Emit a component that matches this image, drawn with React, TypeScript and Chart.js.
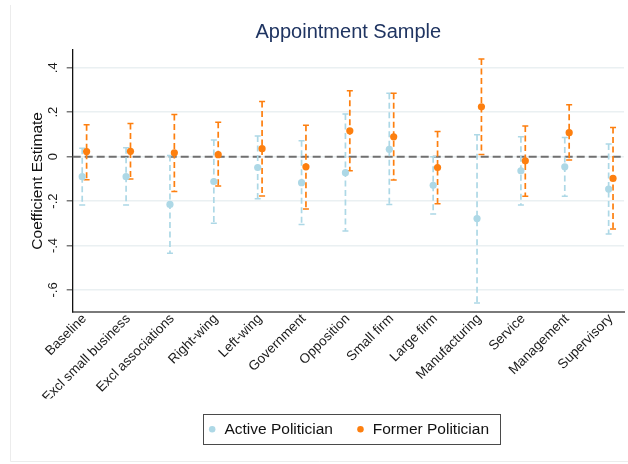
import { useEffect, useRef } from 'react';
import Chart from 'chart.js/auto';

const CATEGORIES = [
  'Baseline',
  'Excl small business',
  'Excl associations',
  'Right-wing',
  'Left-wing',
  'Government',
  'Opposition',
  'Small firm',
  'Large firm',
  'Manufacturing',
  'Service',
  'Management',
  'Supervisory',
];

// point estimates and 95% CI bounds
const ACTIVE_EST = [-0.09, -0.09, -0.215, -0.112, -0.049, -0.117, -0.072, 0.033, -0.129, -0.279, -0.064, -0.046, -0.146];
const ACTIVE_LO = [-0.218, -0.218, -0.435, -0.3, -0.19, -0.305, -0.335, -0.216, -0.258, -0.659, -0.218, -0.178, -0.348];
const ACTIVE_HI = [0.038, 0.04, 0.005, 0.075, 0.093, 0.072, 0.192, 0.285, 0.0, 0.099, 0.09, 0.086, 0.057];

const FORMER_EST = [0.023, 0.024, 0.017, 0.009, 0.036, -0.046, 0.116, 0.089, -0.049, 0.224, -0.019, 0.108, -0.098];
const FORMER_LO = [-0.104, -0.101, -0.157, -0.132, -0.177, -0.236, -0.064, -0.105, -0.212, 0.01, -0.178, -0.015, -0.326];
const FORMER_HI = [0.144, 0.149, 0.19, 0.155, 0.248, 0.141, 0.297, 0.285, 0.113, 0.439, 0.138, 0.234, 0.131];

const Y_TICKS = [-0.6, -0.4, -0.2, 0, 0.2, 0.4];
const Y_TICK_LABELS = ['-.6', '-.4', '-.2', '0', '.2', '.4'];

const ACTIVE_COLOR = '#add8e6';
const FORMER_COLOR = '#fd7f0f';
const FONT = "'Liberation Sans', Arial, Helvetica, sans-serif";
const DODGE = 0.05;

const SERIES = [
  { label: 'Active Politician', est: ACTIVE_EST, lo: ACTIVE_LO, hi: ACTIVE_HI, color: ACTIVE_COLOR, shift: -DODGE },
  { label: 'Former Politician', est: FORMER_EST, lo: FORMER_LO, hi: FORMER_HI, color: FORMER_COLOR, shift: DODGE },
];

// faint outer frame, like the Stata graph region
const framePlugin = {
  id: 'frame',
  beforeDraw(chart: any) {
    const { ctx } = chart;
    ctx.save();
    ctx.fillStyle = '#ffffff';
    ctx.fillRect(0, 0, chart.width, chart.height);
    ctx.strokeStyle = '#ececec';
    ctx.lineWidth = 1;
    ctx.beginPath();
    ctx.moveTo(10.5, 5);
    ctx.lineTo(10.5, 461.5);
    ctx.lineTo(chart.width, 461.5);
    ctx.stroke();
    ctx.restore();
  },
};

// zero reference line + dashed capped CI bars
const errorBarPlugin = {
  id: 'errorBars',
  beforeDatasetsDraw(chart: any) {
    const { ctx, chartArea } = chart;
    const x = chart.scales.x;
    const y = chart.scales.y;
    ctx.save();

    const y0 = y.getPixelForValue(0);
    ctx.strokeStyle = '#707070';
    ctx.lineWidth = 2;
    ctx.setLineDash([8, 4]);
    ctx.beginPath();
    ctx.moveTo(chartArea.left, y0);
    ctx.lineTo(chartArea.right, y0);
    ctx.stroke();

    for (const s of SERIES) {
      s.est.forEach((_, i) => {
        const px = x.getPixelForValue(i + s.shift);
        const top = y.getPixelForValue(s.hi[i]);
        const bot = y.getPixelForValue(s.lo[i]);
        ctx.strokeStyle = s.color;
        ctx.lineWidth = 1.7;
        ctx.setLineDash([6, 3.5]);
        ctx.beginPath();
        ctx.moveTo(px, top);
        ctx.lineTo(px, bot);
        ctx.stroke();
        ctx.setLineDash([]);
        ctx.lineWidth = 1.5;
        ctx.beginPath();
        ctx.moveTo(px - 3, top);
        ctx.lineTo(px + 3, top);
        ctx.moveTo(px - 3, bot);
        ctx.lineTo(px + 3, bot);
        ctx.stroke();
      });
    }
    ctx.restore();
  },
};

// box around the legend entries
const legendBoxPlugin = {
  id: 'legendBox',
  afterDraw(chart: any) {
    const boxes = chart.legend?.legendHitBoxes;
    if (!boxes || !boxes.length) return;
    const first = boxes[0];
    const last = boxes[boxes.length - 1];
    const cy = first.top + first.height / 2;
    const left = first.left - 5;
    const right = last.left + last.width + 11;
    const { ctx } = chart;
    ctx.save();
    ctx.strokeStyle = '#4a4a4a';
    ctx.lineWidth = 1;
    ctx.strokeRect(Math.round(left) + 0.5, Math.round(cy - 15) + 0.5, Math.round(right - left), 30);
    ctx.restore();
  },
};

export default function App() {
  const canvasRef = useRef<HTMLCanvasElement | null>(null);
  const chartRef = useRef<Chart | null>(null);

  useEffect(() => {
    document.body.style.margin = '0';
    const canvas = canvasRef.current;
    if (!canvas) return;

    if (chartRef.current) {
      chartRef.current.destroy();
      chartRef.current = null;
    }

    const datasets = SERIES.map((s) => ({
      label: s.label,
      data: s.est.map((v, i) => ({ x: i + s.shift, y: v })),
      backgroundColor: s.color,
      borderColor: s.color,
      borderWidth: 0,
      pointBackgroundColor: s.color,
      pointBorderWidth: 0,
      pointRadius: 3.6,
      showLine: false,
    }));

    chartRef.current = new Chart(canvas, {
      type: 'scatter',
      data: { datasets },
      plugins: [framePlugin, errorBarPlugin, legendBoxPlugin],
      options: {
        responsive: true,
        maintainAspectRatio: false,
        animation: false,
        events: [],
        layout: { padding: { top: 0, left: 0, right: 0, bottom: 17 } },
        plugins: {
          title: {
            display: true,
            text: 'Appointment Sample',
            color: '#1f3461',
            fullSize: false,
            font: { family: FONT, size: 20, weight: 'normal' },
            padding: { top: 20, bottom: 6 },
          },
          legend: {
            position: 'bottom',
            fullSize: false,
            labels: {
              usePointStyle: true,
              pointStyle: 'circle',
              boxWidth: 9,
              boxHeight: 4.6,
              padding: 23,
              color: '#111111',
              font: { family: FONT, size: 15.5 },
            },
          },
          tooltip: { enabled: false },
        },
        scales: {
          x: {
            type: 'linear',
            min: -0.267,
            max: 12.3,
            afterBuildTicks: (scale: any) => {
              scale.ticks = CATEGORIES.map((_, i) => ({ value: i }));
            },
            afterFit: (scale: any) => {
              scale.height = 86.8;
            },
            grid: { display: false, drawTicks: false },
            border: { display: true, color: '#7a7a7a', width: 2 },
            ticks: {
              autoSkip: false,
              minRotation: 45,
              maxRotation: 45,
              padding: 4,
              color: '#1a1a1a',
              font: { family: FONT, size: 13.5, lineHeight: 0.2 },
              callback: (_v: any, index: number) => CATEGORIES[index],
            },
          },
          y: {
            type: 'linear',
            min: -0.698,
            max: 0.48,
            afterBuildTicks: (scale: any) => {
              scale.ticks = Y_TICKS.map((v) => ({ value: v }));
            },
            afterFit: (scale: any) => {
              scale.width = 72.7;
            },
            grid: {
              color: '#eaf0f2',
              lineWidth: 1.5,
              tickColor: '#7a7a7a',
              tickLength: 6,
              tickWidth: 1.5,
            },
            border: { display: true, color: '#111111', width: 1.3 },
            ticks: {
              minRotation: 90,
              maxRotation: 90,
              crossAlign: 'center',
              padding: 6,
              color: '#1a1a1a',
              font: { family: FONT, size: 13 },
              callback: (_v: any, index: number) => Y_TICK_LABELS[index],
            },
            title: {
              display: true,
              text: 'Coefficient Estimate',
              color: '#111111',
              font: { family: FONT, size: 15.5 },
              padding: { top: 28.5, bottom: 0 },
            },
          },
        },
      } as any,
    });

    return () => {
      if (chartRef.current) {
        chartRef.current.destroy();
        chartRef.current = null;
      }
    };
  }, []);

  return (
    <div style={{ position: 'relative', width: 628, height: 464 }}>
      <canvas ref={canvasRef} />
    </div>
  );
}
